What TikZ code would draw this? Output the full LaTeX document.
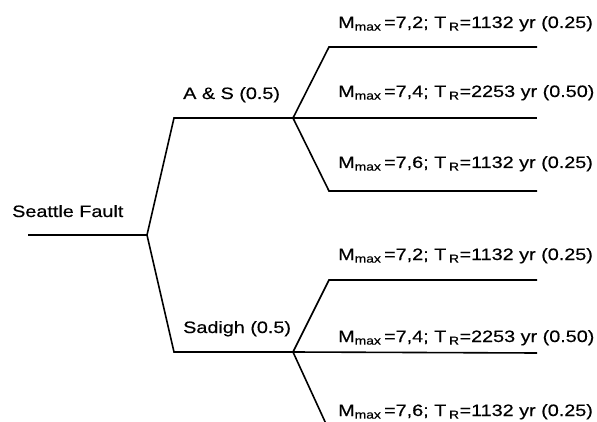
\documentclass[tikz,border=0pt]{standalone}
\usepackage{fontspec}
\setmainfont[FakeStretch=1.2,FakeBold=0.4]{Liberation Sans}
\begin{document}
\begin{tikzpicture}[x=1pt,y=-1pt,
  branch/.style={line width=1.6pt},
  lbl/.style={anchor=base west,inner sep=0pt,font=\fontsize{16.5}{18}\selectfont}]
\useasboundingbox (0,0) rectangle (597,422);
\clip (0,0) rectangle (597,422);
% points
\coordinate (r0) at (28,235);
\coordinate (r1) at (147,235);
\coordinate (u0) at (174,118);
\coordinate (u1) at (293,118);
\coordinate (l0) at (174,352);
\coordinate (l1) at (293,352);
\coordinate (ua0) at (329,47);  \coordinate (ua1) at (537,47);
\coordinate (ub1) at (537,118);
\coordinate (uc0) at (329,191); \coordinate (uc1) at (537,191);
\coordinate (la0) at (329,280); \coordinate (la1) at (537,280);
\coordinate (lb1) at (537,353);
\coordinate (lc0) at (327,426);
% connectors
\draw[branch] (r0) -- (r1);
\draw[branch] (r1) -- (u0) -- (u1);
\draw[branch] (r1) -- (l0) -- (l1);
\draw[branch] (u1) -- (ua0) -- (ua1);
\draw[branch] (u1) -- (ub1);
\draw[branch] (u1) -- (uc0) -- (uc1);
\draw[branch] (l1) -- (la0) -- (la1);
\draw[branch] (l1) -- (lb1);
\draw[branch] (l1) -- (lc0);
% labels
\node[lbl] (tsf) at (12,217) {Seattle Fault};
\node[lbl] (tas) at (183,99) {A \& S (0.5)};
\node[lbl] (tsa) at (183,333) {Sadigh (0.5)};
\node[lbl] (ta1) at (338,28) {M\textsubscript{max}\,=7,2; T\,\textsubscript{R}=1132 yr (0.25)};
\node[lbl] (ta2) at (338,97) {M\textsubscript{max}\,=7,4; T\,\textsubscript{R}=2253 yr (0.50)};
\node[lbl] (ta3) at (338,168) {M\textsubscript{max}\,=7,6; T\,\textsubscript{R}=1132 yr (0.25)};
\node[lbl] (tb1) at (338,260) {M\textsubscript{max}\,=7,2; T\,\textsubscript{R}=1132 yr (0.25)};
\node[lbl] (tb2) at (338,342) {M\textsubscript{max}\,=7,4; T\,\textsubscript{R}=2253 yr (0.50)};
\node[lbl] (tb3) at (338,416) {M\textsubscript{max}\,=7,6; T\,\textsubscript{R}=1132 yr (0.25)};
\end{tikzpicture}
\end{document}
